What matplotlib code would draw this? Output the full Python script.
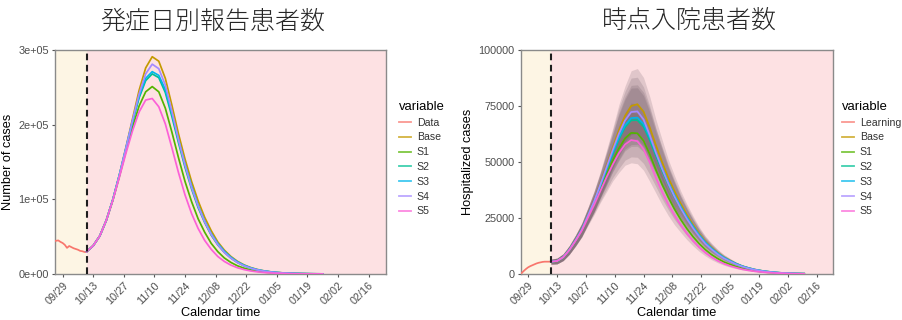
import numpy as np
import pandas as pd
import matplotlib
matplotlib.use("Agg")
import matplotlib.pyplot as plt
import matplotlib.transforms as mtransforms
from matplotlib.lines import Line2D
from matplotlib.ticker import FuncFormatter

plt.rcParams['font.family'] = ['Liberation Sans', 'DejaVu Sans']

# ---------------------------------------------------------------- data
scenario_names = ["Base", "S1", "S2", "S3", "S4", "S5"]
palette = {
    "Data": "#F8766D", "Learning": "#F8766D", "Base": "#C49A00", "S1": "#53B400",
    "S2": "#00C094", "S3": "#00B6EB", "S4": "#A58AFF", "S5": "#FB61D7",
}

cutoff_date = "2021-10-10"

# Daily reported cases by onset date (thousands), 09/25 - 10/10
data_start = "2021-09-25"
cases_data = [44.0, 44.5, 45.0, 43.0, 41.5, 39.0, 35.0, 37.5, 36.0, 34.5,
              33.5, 32.5, 31.0, 30.5, 29.5, 29.5]

# Projected cases (thousands), every 3 days from 10/10
cases_base = [30, 38, 51, 72, 100, 133, 170, 208, 246, 276, 291, 285, 262, 226,
              188, 154, 124, 98, 76, 58, 43, 32, 23.5, 17, 12.2, 8.7, 6.1, 4.3,
              3.0, 2.1, 1.45, 1.0, 0.7, 0.5, 0.35, 0.24, 0.17]
cases_s1 = [30, 38, 51, 72, 99, 131, 165, 197, 225, 244, 251, 244, 222, 190,
            156, 124, 97, 74, 56, 41, 30, 21.5, 15.5, 11, 7.8, 5.5, 3.8,
            2.6, 1.8, 1.25, 0.87, 0.6, 0.42, 0.3, 0.21, 0.15, 0.1]
cases_s2 = [30, 38, 51, 72, 100, 133, 168, 204, 236, 259, 268, 263, 243, 211,
            176, 143, 114, 89, 69, 52, 39, 29, 21.3, 15.4, 11.0, 7.9, 5.5,
            3.9, 2.8, 1.95, 1.35, 0.95, 0.66, 0.46, 0.32, 0.22, 0.16]
cases_s3 = [30, 38, 51, 72, 100, 133, 169, 205, 238, 262, 271, 266, 247, 215,
            180, 147, 118, 92, 71, 54, 41, 30.5, 22.5, 16.3, 11.8, 8.4, 5.9,
            4.2, 2.95, 2.05, 1.42, 1.0, 0.7, 0.5, 0.35, 0.25, 0.18]
cases_s4 = [30, 38, 51, 72, 100, 133, 169, 206, 241, 268, 281, 275, 253, 218,
            180, 146, 116, 91, 70, 53, 39.5, 29, 21.3, 15.3, 11, 7.8, 5.5, 3.9,
            2.7, 1.9, 1.3, 0.9, 0.63, 0.44, 0.31, 0.22, 0.15]
cases_s5 = [30, 38, 51, 72, 99, 130, 162, 192, 217, 233, 235, 224, 201, 169,
            136, 106, 81, 61, 45, 33, 23.5, 16.8, 11.9, 8.4, 5.9, 4.1, 2.9,
            2.0, 1.4, 0.97, 0.67, 0.46, 0.32, 0.22, 0.16, 0.11, 0.08]

# Hospitalized cases during the learning period (thousands), daily from 09/25
hosp_learning = [0.0, 0.6, 1.5, 2.3, 3.0, 3.5, 3.9, 4.3, 4.7, 5.0, 5.2, 5.4,
                 5.5, 5.5, 5.5, 5.5]

# Projected hospitalized cases (thousands), every 3 days from 10/10
hosp_base = [5.5, 5.8, 7.5, 10.8, 15.0, 19.7, 26.0, 32.5, 40.0, 48.0, 56.0, 64.0,
             70.5, 75.0, 75.8, 72.5, 65.5, 57.5, 50.0, 43.0, 37.0, 31.5, 26.5,
             22.0, 18.0, 14.5, 11.8, 9.5, 7.5, 6.0, 4.6, 3.5, 2.7, 2.0, 1.5, 1.1,
             0.8, 0.55, 0.4, 0.28, 0.2, 0.14]
hosp_s1 = [5.5, 5.8, 7.5, 10.8, 14.9, 19.5, 25.5, 31.4, 37.9, 44.4, 50.5, 56.0,
           60.5, 63.0, 62.8, 59.5, 53.5, 46.5, 40.0, 34.2, 29.0, 24.4, 20.3, 16.7,
           13.6, 10.9, 8.7, 6.9, 5.4, 4.3, 3.3, 2.5, 1.9, 1.4, 1.05, 0.77, 0.56,
           0.4, 0.29, 0.2, 0.14, 0.1]
hosp_s2 = [5.5, 5.8, 7.5, 10.8, 15.0, 19.7, 25.9, 32.1, 39.2, 46.5, 53.5, 60.1,
           65.5, 68.6, 68.7, 65.8, 59.8, 52.8, 46.1, 39.9, 34.3, 29.3, 24.7, 20.6,
           16.9, 13.7, 11.1, 8.9, 7.1, 5.7, 4.4, 3.4, 2.6, 1.9, 1.45, 1.05, 0.77,
           0.54, 0.39, 0.27, 0.19, 0.13]
hosp_s3 = [5.5, 5.8, 7.5, 10.8, 15.0, 19.7, 25.9, 32.2, 39.4, 46.8, 54.0, 60.8,
           66.4, 69.6, 69.8, 67.0, 61.0, 54.0, 47.3, 41.0, 35.3, 30.2, 25.5, 21.3,
           17.5, 14.2, 11.5, 9.3, 7.4, 5.9, 4.6, 3.5, 2.7, 2.0, 1.5, 1.1, 0.8,
           0.56, 0.4, 0.28, 0.2, 0.14]
hosp_s4 = [5.5, 5.8, 7.5, 10.8, 15.0, 19.7, 26.0, 32.4, 39.8, 47.5, 55.2, 62.5,
           68.5, 72.3, 72.6, 69.0, 62.0, 54.2, 47.0, 40.4, 34.6, 29.4, 24.7, 20.5,
           16.8, 13.5, 11.0, 8.8, 7.0, 5.6, 4.3, 3.3, 2.5, 1.9, 1.4, 1.0, 0.75,
           0.52, 0.38, 0.26, 0.19, 0.13]
hosp_s5 = [5.5, 5.8, 7.5, 10.7, 14.8, 19.3, 25.1, 30.8, 37.0, 43.1, 48.8, 53.9,
           57.8, 59.8, 59.3, 55.8, 49.8, 43.0, 36.7, 31.1, 26.2, 21.9, 18.1, 14.8,
           11.9, 9.5, 7.5, 5.9, 4.6, 3.6, 2.8, 2.1, 1.6, 1.2, 0.88, 0.64, 0.47,
           0.34, 0.24, 0.17, 0.12, 0.08]

# Relative 95% interval bounds of the hospitalisation projections
band_low = [0.80, 0.78, 0.80, 0.82, 0.84, 0.85, 0.86, 0.86, 0.86, 0.85, 0.85,
            0.84, 0.84, 0.83, 0.83, 0.83, 0.83, 0.84, 0.84, 0.84, 0.84, 0.85,
            0.85, 0.85, 0.85, 0.85, 0.85, 0.85, 0.85, 0.85, 0.85, 0.85, 0.85,
            0.85, 0.85, 0.85, 0.85, 0.85, 0.85, 0.85, 0.85, 0.85]
band_high = [1.20, 1.22, 1.20, 1.18, 1.16, 1.15, 1.14, 1.14, 1.14, 1.15, 1.16,
             1.18, 1.19, 1.21, 1.21, 1.21, 1.21, 1.20, 1.20, 1.19, 1.19, 1.18,
             1.18, 1.18, 1.17, 1.17, 1.17, 1.16, 1.16, 1.16, 1.15, 1.15, 1.15,
             1.15, 1.15, 1.15, 1.15, 1.15, 1.15, 1.15, 1.15, 1.15]

x_ticks = pd.date_range("2021-09-29", "2022-02-16", freq="14D")
x_limits = (pd.Timestamp("2021-09-25 12:00"), pd.Timestamp("2022-02-24"))

cases_proj = dict(zip(scenario_names, [cases_base, cases_s1, cases_s2, cases_s3, cases_s4, cases_s5]))
hosp_proj = dict(zip(scenario_names, [hosp_base, hosp_s1, hosp_s2, hosp_s3, hosp_s4, hosp_s5]))

# ---------------------------------------------------------------- figure
W, H = 903, 320
fig = plt.figure(figsize=(W / 100, H / 100), dpi=100)
fig.patch.set_facecolor("white")


def px_axes(left, top, right, bottom):
    return fig.add_axes([left / W, 1 - bottom / H, (right - left) / W, (bottom - top) / H])


ax1 = px_axes(55, 50, 386, 274)
ax2 = px_axes(521, 50, 833, 274)

tick_col = "#4D4D4D"
cut = pd.Timestamp(cutoff_date)
label_shift = mtransforms.ScaledTranslation(4 / 100, 0, fig.dpi_scale_trans)


def style_axes(ax, ymax, yticks, fmt, ylabel):
    ax.set_xlim(*x_limits)
    ax.set_ylim(0, ymax)
    ax.set_facecolor("#FDE1E3")
    ax.axvspan(x_limits[0], cut, color="#FDF5E4", lw=0, zorder=0)
    ax.axvline(cut, color="#1E1E1E", lw=1.5, ls=(0, (3.2, 2.2)), zorder=5)
    for s in ax.spines.values():
        s.set_color("#8A8A8A")
        s.set_linewidth(1.0)
    ax.set_xticks(x_ticks)
    ax.set_xticklabels([d.strftime("%m/%d") for d in x_ticks], rotation=45,
                       ha="right", va="top", rotation_mode="anchor")
    for lab in ax.get_xticklabels():
        lab.set_transform(lab.get_transform() + label_shift)
    ax.set_yticks(yticks)
    ax.yaxis.set_major_formatter(FuncFormatter(fmt))
    ax.tick_params(axis="both", length=2.5, width=0.8, color="#555555",
                   labelsize=7.8, labelcolor=tick_col, pad=2)
    ax.set_xlabel("Calendar time", fontsize=9.2, labelpad=0)
    ax.set_ylabel(ylabel, fontsize=9.2, labelpad=3)


style_axes(ax1, 3e5, [0, 1e5, 2e5, 3e5], lambda v, p: f"{v:.0e}", "Number of cases")
style_axes(ax2, 1e5, [0, 25000, 50000, 75000, 100000], lambda v, p: f"{int(v)}",
           "Hospitalized cases")

lw = 1.25

# left panel: cases
d_dates = pd.date_range(data_start, periods=len(cases_data), freq="D")
ax1.plot(d_dates, np.array(cases_data) * 1000, color=palette["Data"], lw=lw, zorder=3)
for name in scenario_names:
    vals = np.array(cases_proj[name]) * 1000
    dates = pd.date_range(cutoff_date, periods=len(vals), freq="3D")
    ax1.plot(dates, vals, color=palette[name], lw=lw, zorder=3)

# right panel: hospitalisations with uncertainty bands
l_dates = pd.date_range(data_start, periods=len(hosp_learning), freq="D")
lo = np.array(band_low)
hi = np.array(band_high)
for name in scenario_names:
    vals = np.array(hosp_proj[name]) * 1000
    dates = pd.date_range(cutoff_date, periods=len(vals), freq="3D")
    ax2.fill_between(dates, vals * lo, vals * hi, color="#4E3A48", alpha=0.16, lw=0, zorder=2)
ax2.plot(l_dates, np.array(hosp_learning) * 1000, color=palette["Learning"], lw=lw, zorder=3)
for name in scenario_names:
    vals = np.array(hosp_proj[name]) * 1000
    dates = pd.date_range(cutoff_date, periods=len(vals), freq="3D")
    ax2.plot(dates, vals, color=palette[name], lw=lw, zorder=3)


# legends
def add_legend(first, x_px):
    labels = [first] + scenario_names
    handles = [Line2D([], [], color=palette[l], lw=1.3, alpha=0.75) for l in labels]
    leg = fig.legend(handles, labels, title="variable", loc="upper left",
                     bbox_to_anchor=(x_px / W, 1 - 101 / H), frameon=False,
                     fontsize=7.6, title_fontsize=9.4, handlelength=1.1,
                     handletextpad=0.6, labelspacing=0.45, borderaxespad=0,
                     borderpad=0, alignment="left")
    for t in leg.get_texts():
        t.set_color("#333333")


add_legend("Data", 399)
add_legend("Learning", 842)

# titles
jp = ['Noto Sans CJK JP', 'DejaVu Sans']
fig.text(213 / W, 1 - 21 / H, "発症日別報告患者数", family=jp, fontsize=18,
         fontweight="light", ha="center", va="center", color="#262626")
fig.text(689 / W, 1 - 21 / H, "時点入院患者数", family=jp, fontsize=18,
         fontweight="light", ha="center", va="center", color="#262626")

fig.savefig("out.png", dpi=100)
